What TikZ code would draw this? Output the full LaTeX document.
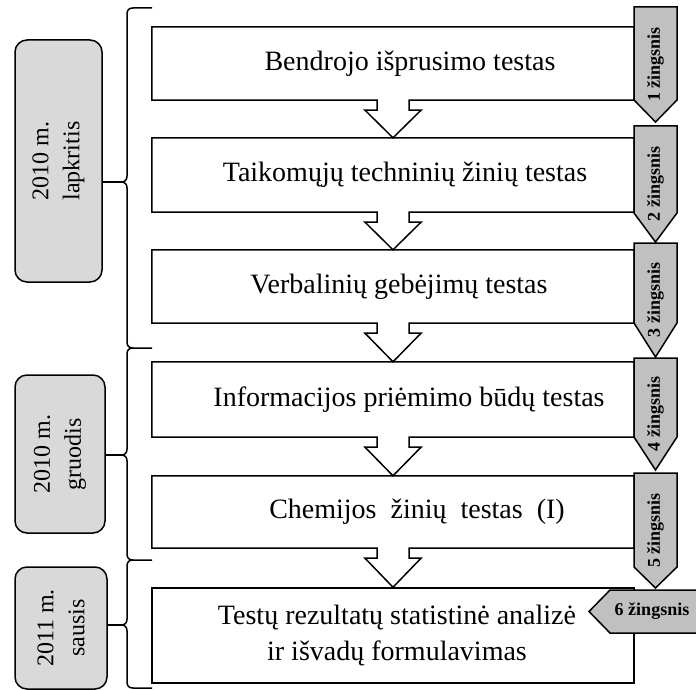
\documentclass[tikz,border=0pt]{standalone}
\usepackage{fontspec}
\setmainfont{Liberation Serif}
\usetikzlibrary{calc}
\definecolor{chevgray}{RGB}{192,192,192}
\definecolor{timegray}{RGB}{217,217,217}
\begin{document}
\begin{tikzpicture}[x=1pt,y=-1pt,
  lw/.style={line width=1.5pt},
  mainbox/.style={fill=white, inner sep=0pt, minimum width=482pt},
  maintext/.style={font=\fontsize{28}{36}\selectfont, align=center, inner sep=0pt},
  timebox/.style={draw, lw, fill=timegray, rounded corners=12pt, inner sep=0pt},
  timetext/.style={rotate=90, align=center, font=\fontsize{24}{31}\selectfont},
  chev/.style={draw, lw, fill=chevgray, line join=miter},
  steptext/.style={rotate=90, font=\fontsize{18}{20}\selectfont\bfseries, inner sep=0pt},
  stepflat/.style={font=\fontsize{18}{20}\selectfont\bfseries, inner sep=0pt},
  bracel/.style={lw, line join=round},
  hollow/.style={lw, line join=miter}
]
\useasboundingbox (0,0) rectangle (696,690);

% main boxes
\node[mainbox, minimum height=73pt] (b1) at (393,63.5) {};
\node[mainbox, minimum height=74pt] (b2) at (393,175) {};
\node[mainbox, minimum height=73pt] (b3) at (393,286.5) {};
\node[mainbox, minimum height=75pt] (b4) at (393,399.5) {};
\node[mainbox, minimum height=72pt] (b5) at (393,512) {};
\node[mainbox, minimum height=95pt, draw, lw] (b6) at (393,635.5) {};

% box borders with hollow arrows to the next box
\foreach \a/\b in {b1/b2,b2/b3,b3/b4,b4/b5,b5/b6}{
  \draw[hollow] ($(\a.south)+(16,10)$) -- ($(\a.south)+(16,0)$) -- (\a.south east) -- (\a.north east)
     -- (\a.north west) -- (\a.south west) -- ($(\a.south)+(-16,0)$) -- ($(\a.south)+(-16,10)$)
     -- ($(\a.south)+(-28,10)$) -- (\b.north) -- ($(\a.south)+(28,10)$) -- cycle;
}

% texts
\node[maintext] (b1txt) at ([xshift=17pt]b1.center) {Bendrojo išprusimo testas};
\node[maintext] (b2txt) at ([xshift=12pt]b2.center) {Taikomųjų techninių žinių testas};
\node[maintext] (b3txt) at ([xshift=6pt]b3.center) {Verbalinių gebėjimų testas};
\node[maintext] (b4txt) at ([xshift=16pt]b4.center) {Informacijos priėmimo būdų testas};
\node[maintext] (b5txt) at ([xshift=24pt]b5.center) {Chemijos\ \ žinių\ \ testas\ \ (I)};
\node[maintext] (b6txt) at ([xshift=4pt]b6.center) {Testų rezultatų statistinė analizė\\ir išvadų formulavimas};

% step chevrons
\draw[chev] (634,7) -- (677,7) -- (677,100) -- (655.5,122) -- (634,100) -- cycle;
\node[steptext] (s1) at (655.5,64.5) {1 žingsnis};
\draw[chev] (634,126) -- (677,126) -- (677,213) -- (655.5,242) -- (634,213) -- cycle;
\node[steptext] (s2) at (655.5,184) {2 žingsnis};
\draw[chev] (634,243) -- (677,243) -- (677,323) -- (655.5,357) -- (634,323) -- cycle;
\node[steptext] (s3) at (655.5,300) {3 žingsnis};
\draw[chev] (634,358) -- (677,358) -- (677,437) -- (655.5,470) -- (634,437) -- cycle;
\node[steptext] (s4) at (655.5,414) {4 žingsnis};
\draw[chev] (634,473) -- (677,473) -- (677,567) -- (655.5,588) -- (634,567) -- cycle;
\node[steptext] (s5) at (655.5,530.5) {5 žingsnis};
\draw[chev] (720,590) -- (610,590) -- (589,611.5) -- (610,633) -- (720,633) -- cycle;
\node[stepflat] (s6) at (652,611.5) {6 žingsnis};

% time boxes
\node[timebox, minimum width=87pt, minimum height=242pt] (t1) at (58.5,161) {};
\node[timetext] (t1txt) at (t1.center) {2010 m.\\lapkritis};
\node[timebox, minimum width=90pt, minimum height=158pt] (t2) at (60,454) {};
\node[timetext] (t2txt) at (t2.center) {2010 m.\\gruodis};
\node[timebox, minimum width=92pt, minimum height=122pt] (t3) at (61,628) {};
\node[timetext] (t3txt) at (t3.center) {2011 m.\\sausis};

% braces
\coordinate (m1) at (121,182);
\coordinate (m2) at (121,455);
\coordinate (m3) at (121,625);
\draw[bracel] (152,8) -- (133,8) .. controls (129,8) and (127,10) .. (127,14) -- (127,176)
  .. controls (127,180) and (125,182) .. (m1) .. controls (125,182) and (127,184) .. (127,188)
  -- (127,342) .. controls (127,346) and (129,348) .. (133,348) -- (152,348);
\draw[bracel] (133,348) .. controls (129,348) and (127,350) .. (127,354) -- (127,449)
  .. controls (127,453) and (125,455) .. (m2) .. controls (125,455) and (127,457) .. (127,461)
  -- (127,554) .. controls (127,558) and (129,560) .. (133,560) -- (152,560);
\draw[bracel] (133,560) .. controls (129,560) and (127,562) .. (127,566) -- (127,619)
  .. controls (127,623) and (125,625) .. (m3) .. controls (125,625) and (127,627) .. (127,631)
  -- (127,682) .. controls (127,686) and (129,688) .. (133,688) -- (152,688);
\draw[lw] (m1) -- (t1.east |- m1);
\draw[lw] (m2) -- (t2.east |- m2);
\draw[lw] (m3) -- (t3.east |- m3);
\end{tikzpicture}
\end{document}
